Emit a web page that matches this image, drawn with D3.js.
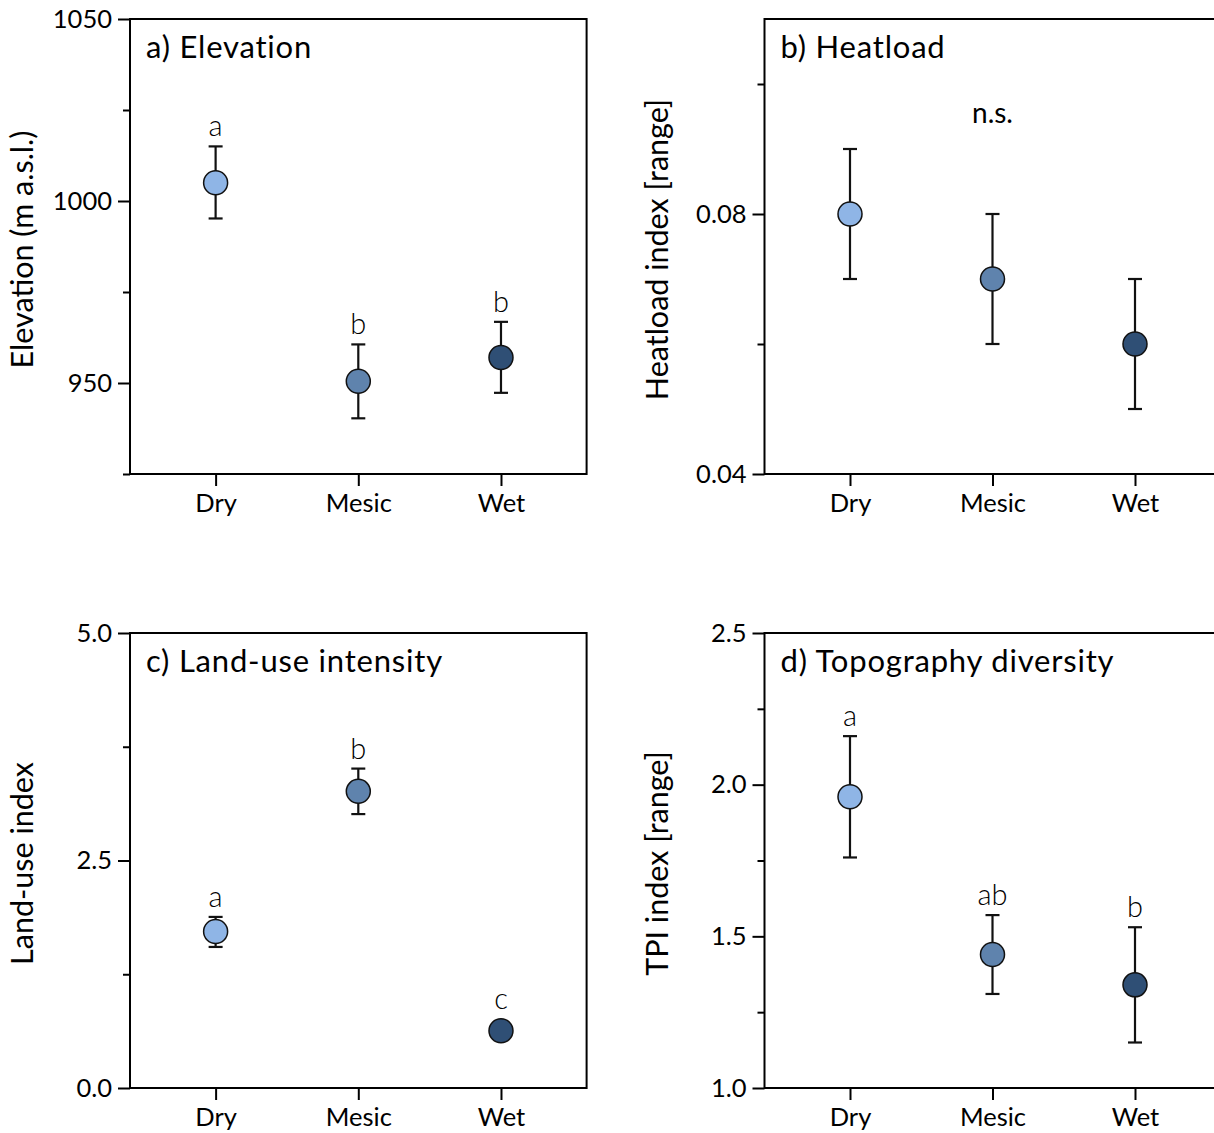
<!DOCTYPE html>
<html lang="en">
<head>
<meta charset="UTF-8">
<title>Site characteristics by moisture group</title>
<style>
  body { margin: 0; background: #fff; }
  svg text { font-family: Lato, "Open Sans", sans-serif; fill: #000; }
  .box { fill: none; stroke: #000; stroke-width: 2; }
  .axis line { stroke: #000; stroke-width: 2; }
  .axis text { font-size: 25.5px; }
  .panel-title { font-size: 31px; letter-spacing: 0.8px; }
  .y-title { font-size: 30.5px; }
  .letter { font-size: 29px; font-weight: 300; fill: #000; }
  .ns { font-size: 28px; }
  .err { stroke: #111; stroke-width: 2.2; fill: none; }
  .dot { stroke: #111; stroke-width: 1.5; }
</style>
</head>
<body>
<svg width="1214" height="1133"></svg>
<script src="https://d3js.org/d3.v7.min.js"></script>
<script>
// groups along the x axis
const groups = ["Dry", "Mesic", "Wet"];
const groupFill = ["#8fb5e6", "#5f83ad", "#2f4f75"];

// a) elevation
const elevationMean = [1005, 950.5, 957];
const elevationLow = [995.2, 940.3, 947.3];
const elevationHigh = [1015, 960.6, 966.8];
const elevationLetters = ["a", "b", "b"];

// b) heatload
const heatMean = [0.080, 0.070, 0.060];
const heatLow = [0.070, 0.060, 0.050];
const heatHigh = [0.090, 0.080, 0.070];

// c) land-use intensity
const landMean = [1.72, 3.26, 0.63];
const landLow = [1.55, 3.01, 0.56];
const landHigh = [1.88, 3.51, 0.70];
const landLetters = ["a", "b", "c"];

// d) topography diversity
const tpiMean = [1.96, 1.44, 1.34];
const tpiLow = [1.76, 1.31, 1.15];
const tpiHigh = [2.16, 1.57, 1.53];
const tpiLetters = ["a", "ab", "b"];

const panels = [
  { title: "a) Elevation", ylab: "Elevation (m a.s.l.)", mean: elevationMean, low: elevationLow, high: elevationHigh,
    letters: elevationLetters, domain: [925, 1050], major: [950, 1000, 1050], minor: [925, 975, 1025], fmt: d3.format("d"), col: 0, row: 0 },
  { title: "b) Heatload", ylab: "Heatload index [range]", mean: heatMean, low: heatLow, high: heatHigh,
    letters: null, note: "n.s.", noteAt: 0.094, domain: [0.04, 0.11], major: [0.04, 0.08], minor: [0.06, 0.10], fmt: d3.format(".2f"), col: 1, row: 0 },
  { title: "c) Land-use intensity", ylab: "Land-use index", mean: landMean, low: landLow, high: landHigh,
    letters: landLetters, domain: [0, 5], major: [0, 2.5, 5], minor: [1.25, 3.75], fmt: d3.format(".1f"), col: 0, row: 1 },
  { title: "d) Topography diversity", ylab: "TPI index [range]", mean: tpiMean, low: tpiLow, high: tpiHigh,
    letters: tpiLetters, domain: [1, 2.5], major: [1, 1.5, 2, 2.5], minor: [1.25, 1.75, 2.25], fmt: d3.format(".1f"), col: 1, row: 1 }
];

const colX = [[130, 586.6], [764.5, 1220.5]];
const rowY = [[474, 19], [1088, 633]];

const svg = d3.select("svg");

panels.forEach(p => {
  const x = d3.scaleLinear().domain([0.4, 3.6]).range(colX[p.col]);
  const y = d3.scaleLinear().domain(p.domain).range(rowY[p.row]);
  const [x0, x1] = x.range();
  const [yb, yt] = y.range();
  const g = svg.append("g");

  // minor ticks
  g.append("g").attr("class", "axis").attr("transform", `translate(${x0},0)`)
    .call(d3.axisLeft(y).tickValues(p.minor).tickSize(7).tickFormat(""))
    .call(s => s.select(".domain").remove());

  // major ticks
  g.append("g").attr("class", "axis").attr("transform", `translate(${x0},0)`)
    .call(d3.axisLeft(y).tickValues(p.major).tickSize(12).tickPadding(6).tickFormat(p.fmt))
    .call(s => s.select(".domain").remove());

  g.append("g").attr("class", "axis").attr("transform", `translate(0,${yb})`)
    .call(d3.axisBottom(x).tickValues([1, 2, 3]).tickSize(12).tickPadding(8).tickFormat(i => groups[i - 1]))
    .call(s => s.select(".domain").remove());

  g.append("rect").attr("class", "box")
    .attr("x", x0).attr("y", yt).attr("width", x1 - x0).attr("height", yb - yt);

  g.append("text").attr("class", "panel-title")
    .attr("x", x0 + 16).attr("y", yt + 39).text(p.title);

  g.append("text").attr("class", "y-title")
    .attr("transform", `translate(${x0 - 97},${(yb + yt) / 2 + 3}) rotate(-90)`)
    .attr("text-anchor", "middle").text(p.ylab);

  const idx = d3.range(groups.length);
  const pt = g.append("g");

  pt.selectAll("line.v").data(idx).join("line").attr("class", "err")
    .attr("x1", i => x(i + 1)).attr("x2", i => x(i + 1))
    .attr("y1", i => y(p.low[i])).attr("y2", i => y(p.high[i]));
  pt.selectAll("line.lo").data(idx).join("line").attr("class", "err lo")
    .attr("x1", i => x(i + 1) - 7).attr("x2", i => x(i + 1) + 7)
    .attr("y1", i => y(p.low[i])).attr("y2", i => y(p.low[i]));
  pt.selectAll("line.hi").data(idx).join("line").attr("class", "err hi")
    .attr("x1", i => x(i + 1) - 7).attr("x2", i => x(i + 1) + 7)
    .attr("y1", i => y(p.high[i])).attr("y2", i => y(p.high[i]));

  pt.selectAll("circle").data(idx).join("circle").attr("class", "dot")
    .attr("cx", i => x(i + 1)).attr("cy", i => y(p.mean[i])).attr("r", 12)
    .attr("fill", i => groupFill[i]);

  if (p.letters) {
    pt.selectAll("text.letter").data(idx).join("text").attr("class", "letter")
      .attr("text-anchor", "middle")
      .attr("x", i => x(i + 1))
      .attr("y", i => Math.min(y(p.high[i]), y(p.mean[i]) - 12) - 10)
      .text(i => p.letters[i]);
  }
  if (p.note) {
    g.append("text").attr("class", "ns").attr("text-anchor", "middle")
      .attr("x", x(2)).attr("y", y(p.noteAt)).text(p.note);
  }
});
</script>
</body>
</html>
